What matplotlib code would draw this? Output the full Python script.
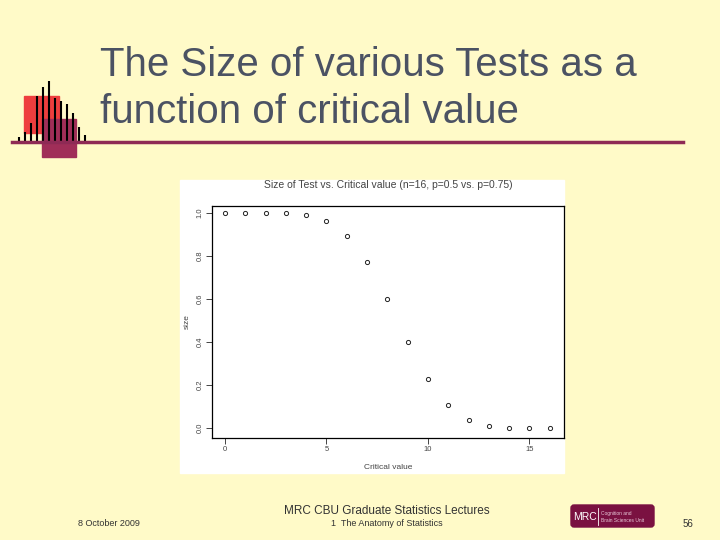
#!/usr/bin/env python3
"""
Slide: size of test vs critical value (n=16, p=0.5 vs p=0.75).
"""

import matplotlib
matplotlib.use('Agg')
import matplotlib.pyplot as plt
from matplotlib.patches import Rectangle, FancyBboxPatch

# Data
critical_values = list(range(17))
test_size = [1.0, 1.0, 1.0, 0.998, 0.989, 0.962, 0.895, 0.773, 0.598,
             0.402, 0.227, 0.105, 0.038, 0.011, 0.002, 0.0003, 0.0]
x_ticks = [0, 5, 10, 15]
y_ticks = [0.0, 0.2, 0.4, 0.6, 0.8, 1.0]

# logo decoration (bar tops in pixels)
logo_bar_x = [18.7, 24.7, 30.7, 36.7, 42.7, 48.7, 54.7, 60.7, 66.7, 72.7, 78.7, 84.7]
logo_bar_top = [136.7, 131.7, 122.7, 96, 86.7, 81, 98, 101, 104, 112.7, 126.7, 135]

plt.rcParams['font.family'] = ['Liberation Sans', 'DejaVu Sans']

W, H = 720, 540
bg = '#FFFAC8'
fig = plt.figure(figsize=(7.2, 5.4), dpi=100, facecolor=bg)

# full-figure overlay in pixel coordinates
deco = fig.add_axes([0, 0, 1, 1], zorder=0)
deco.set_xlim(0, W)
deco.set_ylim(H, 0)
deco.axis('off')

# logo squares and bars
deco.add_patch(Rectangle((24, 96), 35, 37, color='#EE3E3E', zorder=1))
deco.add_patch(Rectangle((42, 119), 34, 38, color='#A02E58', zorder=2))
for bx, top in zip(logo_bar_x, logo_bar_top):
    deco.plot([bx, bx], [141, top], color='black', lw=1.5, solid_capstyle='butt', zorder=3)
deco.plot([12, 683], [142, 142], color='#8E2A55', lw=2.5, zorder=4)

# slide title
deco.text(100, 65, 'The Size of various Tests as a', fontsize=29, color='#4B5263',
          va='center', ha='left')
deco.text(100, 112, 'function of critical value', fontsize=29, color='#4B5263',
          va='center', ha='left')

# white background of the embedded figure
deco.add_patch(Rectangle((180, 180), 384, 293, color='white', zorder=1))

# footer
deco.text(109, 524, '8 October 2009', fontsize=6.5, color='#333333', ha='center', va='center')
deco.text(387, 511, 'MRC CBU Graduate Statistics Lectures', fontsize=8.5, color='#333333',
          ha='center', va='center')
deco.text(387, 524, '1  The Anatomy of Statistics', fontsize=6.5, color='#333333',
          ha='center', va='center')
deco.text(688, 524, '56', fontsize=7, color='#333333', ha='center', va='center')

# MRC logo box
deco.add_patch(FancyBboxPatch((571, 505), 83, 22, boxstyle='round,pad=0,rounding_size=3',
                              color='#7A1141', zorder=2))
deco.text(585, 517, 'MRC', fontsize=7.5, color='white', ha='center', va='center', zorder=3)
deco.plot([598, 598], [508, 525], color='white', lw=0.6, zorder=3)
deco.text(601, 513, 'Cognition and', fontsize=3.5, color='#E8C8D8', ha='left', va='center', zorder=3)
deco.text(601, 521, 'Brain Sciences Unit', fontsize=3.5, color='#E8C8D8', ha='left', va='center', zorder=3)

# the plot itself
left, right, top, bottom = 211.7, 564, 206, 438
ax = fig.add_axes([left / W, 1 - bottom / H, (right - left) / W, (bottom - top) / H], zorder=2)
ax.set_facecolor('white')
ax.plot(critical_values, test_size, 'o', mfc='none', mec='#222222', ms=3, mew=0.7)
ax.set_xlim(-0.655, 16.7)
ax.set_ylim(-0.0465, 1.0326)
ax.set_xticks(x_ticks)
ax.set_yticks(y_ticks)
ax.set_yticklabels([f'{v:.1f}' for v in y_ticks], rotation=90, va='center')
ax.tick_params(labelsize=5.5, colors='#444444', length=4, width=0.7, pad=2)
for s in ax.spines.values():
    s.set_linewidth(0.9)
ax.set_xlabel('Critical value', fontsize=6, color='#444444', labelpad=8)
ax.set_ylabel('size', fontsize=6, color='#444444', labelpad=4)
ax.set_title('Size of Test vs. Critical value (n=16, p=0.5 vs. p=0.75)', fontsize=7.5,
             color='#444444', pad=13)

plt.savefig('out.png', dpi=100, facecolor=bg)
